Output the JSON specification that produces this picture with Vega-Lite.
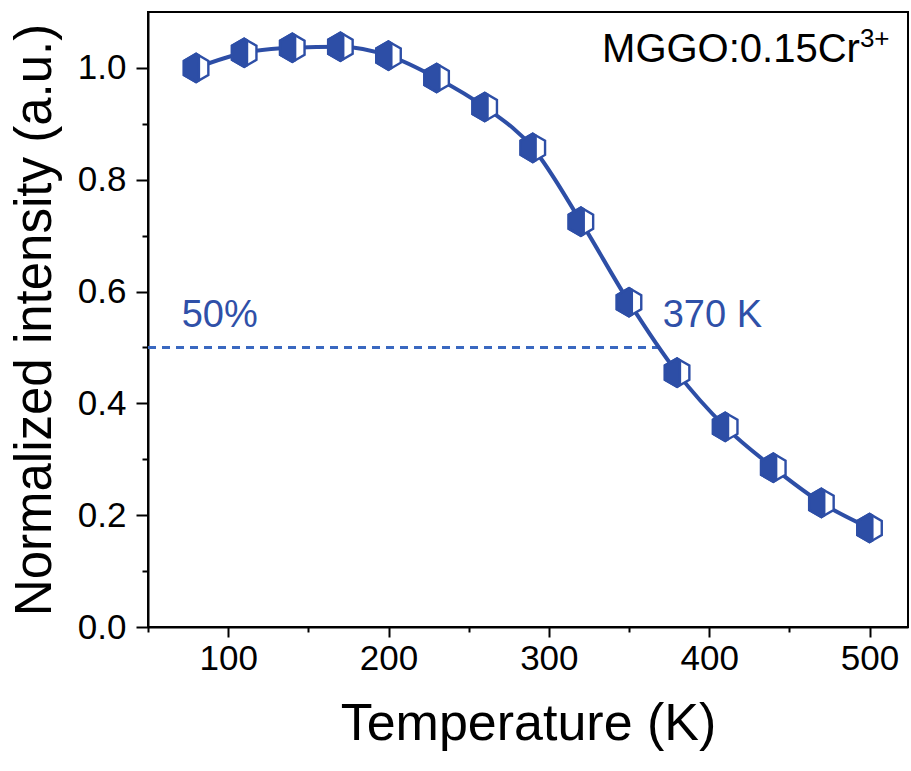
{
  "$schema": "https://vega.github.io/schema/vega-lite/v6.json",
  "width": 760,
  "height": 615,
  "autosize": {"type": "none"},
  "padding": {"left": 148, "top": 12, "right": 3, "bottom": 144},
  "background": "white",
  "config": {
    "font": "Liberation Sans",
    "view": {"stroke": "black", "strokeWidth": 2},
    "axis": {
      "domainColor": "black",
      "domainWidth": 2,
      "tickColor": "black",
      "tickWidth": 2,
      "grid": false,
      "labelColor": "black",
      "titleColor": "black",
      "labelFont": "Liberation Sans",
      "titleFont": "Liberation Sans",
      "titleFontWeight": "normal"
    }
  },
  "datasets": {
    "pts": [
      {"T": 80, "I": 1.000},
      {"T": 110, "I": 1.027},
      {"T": 140, "I": 1.036},
      {"T": 170, "I": 1.038},
      {"T": 200, "I": 1.022},
      {"T": 230, "I": 0.982},
      {"T": 260, "I": 0.930},
      {"T": 290, "I": 0.857},
      {"T": 320, "I": 0.725},
      {"T": 350, "I": 0.581},
      {"T": 380, "I": 0.455},
      {"T": 410, "I": 0.358},
      {"T": 440, "I": 0.285},
      {"T": 470, "I": 0.222},
      {"T": 500, "I": 0.177}
    ]
  },
  "resolve": {"axis": {"x": "independent", "y": "independent"}},
  "layer": [
    {
      "data": {"values": [{"T": 50, "T2": 370, "I": 0.5}]},
      "mark": {"type": "rule", "color": "#3a68c0", "strokeWidth": 3, "strokeDash": [8, 6]},
      "encoding": {
        "x": {"field": "T", "type": "quantitative", "scale": {"domain": [50, 524], "nice": false},
          "axis": {"orient": "bottom", "values": [100, 200, 300, 400, 500], "tickSize": 10, "labelFontSize": 35, "labelPadding": 4,
            "title": "Temperature (K)", "titleFontSize": 52, "titlePadding": 22}},
        "x2": {"field": "T2"},
        "y": {"field": "I", "type": "quantitative", "scale": {"domain": [0, 1.1], "nice": false},
          "axis": {"orient": "left", "values": [0, 0.2, 0.4, 0.6, 0.8, 1.0], "format": ".1f", "tickSize": 12, "labelFontSize": 35, "labelPadding": 10,
            "title": "Normalized intensity (a.u.)", "titleFontSize": 51, "titlePadding": 16}}
      }
    },
    {
      "data": {"values": [{"T": 50}, {"T": 150}, {"T": 250}, {"T": 350}, {"T": 450}]},
      "mark": {"type": "point", "opacity": 0},
      "encoding": {
        "x": {"field": "T", "type": "quantitative", "scale": {"domain": [50, 524], "nice": false},
          "axis": {"orient": "bottom", "values": [50, 150, 250, 350, 450], "tickSize": 5, "labels": false, "domain": false, "title": null}}
      }
    },
    {
      "data": {"values": [{"I": 0.1}, {"I": 0.3}, {"I": 0.5}, {"I": 0.7}, {"I": 0.9}]},
      "mark": {"type": "point", "opacity": 0},
      "encoding": {
        "y": {"field": "I", "type": "quantitative", "scale": {"domain": [0, 1.1], "nice": false},
          "axis": {"orient": "left", "values": [0.1, 0.3, 0.5, 0.7, 0.9], "tickSize": 6, "labels": false, "domain": false, "title": null}}
      }
    },
    {
      "data": {"name": "pts"},
      "mark": {"type": "line", "color": "#2d4ea6", "strokeWidth": 4, "interpolate": "monotone"},
      "encoding": {
        "x": {"field": "T", "type": "quantitative", "axis": null},
        "y": {"field": "I", "type": "quantitative", "axis": null}
      }
    },
    {
      "data": {"name": "pts"},
      "mark": {"type": "point", "shape": "M0,-1L0.866,-0.5L0.866,0.5L0,1L-0.866,0.5L-0.866,-0.5Z", "size": 800, "filled": true, "fill": "white", "stroke": "#2d4ea6", "strokeWidth": 2.4, "opacity": 1},
      "encoding": {
        "x": {"field": "T", "type": "quantitative", "axis": null},
        "y": {"field": "I", "type": "quantitative", "axis": null}
      }
    },
    {
      "data": {"name": "pts"},
      "mark": {"type": "point", "shape": "M0.2,-0.88L0,-1L-0.866,-0.5L-0.866,0.5L0,1L0.2,0.88Z", "size": 800, "filled": true, "fill": "#2d4ea6", "stroke": "#2d4ea6", "strokeWidth": 2.4, "opacity": 1},
      "encoding": {
        "x": {"field": "T", "type": "quantitative", "axis": null},
        "y": {"field": "I", "type": "quantitative", "axis": null}
      }
    },
    {
      "data": {"values": [{"T": 71, "I": 0.537, "label": "50%"}, {"T": 371, "I": 0.537, "label": "370 K"}]},
      "mark": {"type": "text", "align": "left", "baseline": "alphabetic", "fontSize": 38, "color": "#2f50a8"},
      "encoding": {
        "x": {"field": "T", "type": "quantitative", "axis": null},
        "y": {"field": "I", "type": "quantitative", "axis": null},
        "text": {"field": "label"}
      }
    },
    {
      "data": {"values": [{"T": 494, "I": 1.010, "label": "MGGO:0.15Cr"}]},
      "mark": {"type": "text", "align": "right", "baseline": "alphabetic", "fontSize": 40, "color": "black"},
      "encoding": {
        "x": {"field": "T", "type": "quantitative", "axis": null},
        "y": {"field": "I", "type": "quantitative", "axis": null},
        "text": {"field": "label"}
      }
    },
    {
      "data": {"values": [{"T": 494, "I": 1.010, "label": "3+"}]},
      "mark": {"type": "text", "align": "left", "baseline": "alphabetic", "fontSize": 26, "dy": -15, "color": "black"},
      "encoding": {
        "x": {"field": "T", "type": "quantitative", "axis": null},
        "y": {"field": "I", "type": "quantitative", "axis": null},
        "text": {"field": "label"}
      }
    }
  ]
}
